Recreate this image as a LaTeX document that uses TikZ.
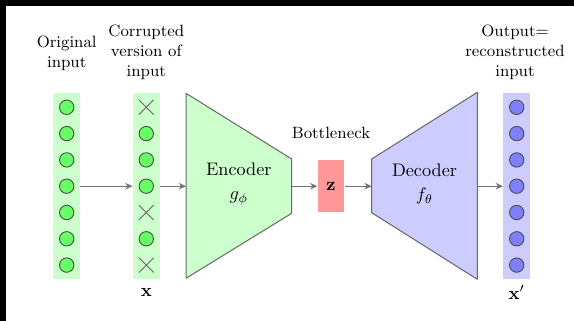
\documentclass[tikz,border=0pt]{standalone}
\usetikzlibrary{arrows.meta,shapes.misc}
\begin{document}
\begin{tikzpicture}[x=0.55pt,y=-0.55pt,
  layerbar/.style={fill=#1,draw=none,minimum width=14.7pt,minimum height=102.1pt,inner sep=0pt},
  unit/.style={circle,fill=#1,draw=black!70,line width=0.5pt,minimum size=7.9pt,inner sep=0pt},
  dropped/.style={cross out,draw=black!60,line width=0.5pt,minimum size=7.6pt,inner sep=0pt},
  flow/.style={draw=black!55,line width=0.75pt,-{Stealth[length=4pt,width=3.6pt]}},
  netbox/.style={draw=black!60,line width=0.55pt,line join=round},
  lbl/.style={font=\small,align=center,inner sep=0pt},
  netlbl/.style={align=center,inner sep=0pt}]
  % canvas and dark frame edges
  \path[use as bounding box,fill=white] (0,0) rectangle (574,321);
  \fill[black] (0,0) rectangle (574,6.5);
  \fill[black] (0,0) rectangle (6,321);

  % layers
  \node[layerbar=green!20] (bin)  at (66.7,186.2) {};
  \node[layerbar=green!20] (bcor) at (146.3,186.2) {};
  \node[layerbar=blue!20]  (bout) at (516.7,186.2) {};

  % input and output units
  \foreach \k in {1,...,7}{
    \node[unit=green!60] (in\k) at (66.7,{186.2+26.3*(\k-4)}) {};
    \node[unit=blue!50] (out\k) at (516.7,{186.2+26.3*(\k-4)}) {};
  }
  % corrupted units
  \foreach \k in {2,3,4,6}{
    \node[unit=green!60] (cor\k) at (146.3,{186.2+26.3*(\k-4)}) {};
  }
  \foreach \k in {1,5,7}{
    \node[dropped] (cor\k) at (146.3,{186.2+26.3*(\k-4)}) {};
  }

  % encoder
  \fill[green!20] (186,93.3) -- (291.7,159) -- (291.7,213.3) -- (186,278.3) -- cycle;
  \draw[netbox] (186,93.3) -- (291.7,159) -- (291.7,213.3) -- (186,278.3) -- cycle;
  \coordinate (encin) at (186,186.2);
  \coordinate (encout) at (291.7,186.2);
  \node[netlbl] (enc) at (238.8,184) {Encoder\\[1pt]$g_\phi$};

  % bottleneck
  \node[fill=red!40,draw=none,minimum width=14.6pt,minimum height=28.8pt,inner sep=0pt] (z) at (331,186.2) {$\mathbf{z}$};
  \node[lbl] (bn) at (331,133) {Bottleneck};

  % decoder
  \fill[blue!20] (371.7,159) -- (477.3,92.3) -- (477.3,279.3) -- (371.7,212.7) -- cycle;
  \draw[netbox] (371.7,159) -- (477.3,92.3) -- (477.3,279.3) -- (371.7,212.7) -- cycle;
  \coordinate (decin) at (371.7,186.2);
  \coordinate (decout) at (477.3,186.2);
  \node[netlbl] (dec) at (424.5,184) {Decoder\\[1pt]$f_\theta$};

  % connectors
  \draw[flow] (bin.east) -- (bcor.west);
  \draw[flow] (bcor.east) -- (encin);
  \draw[flow] (encout) -- (z.west);
  \draw[flow] (z.east) -- (decin);
  \draw[flow] (decout) -- (bout.west);

  % captions
  \node[lbl] (tin)  at (66.7,53) {Original\\input};
  \node[lbl] (tcor) at (146.3,52) {Corrupted\\version of\\input};
  \node[lbl] (tout) at (515,52) {Output=\\reconstructed\\input};
  \node[inner sep=0pt,anchor=base] (xl) at (146.3,296) {$\mathbf{x}$};
  \node[inner sep=0pt,anchor=base] (xpl) at (516.7,299) {$\mathbf{x}'$};
\end{tikzpicture}
\end{document}
